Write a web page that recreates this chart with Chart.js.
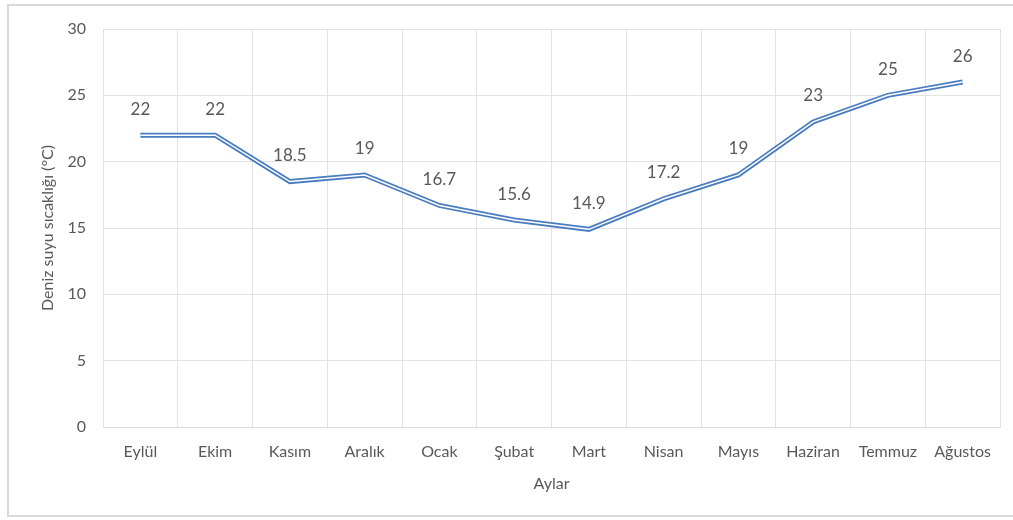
<!DOCTYPE html>
<html>
<head>
<meta charset="utf-8">
<script src="https://cdn.jsdelivr.net/npm/chart.js@4.4.0/dist/chart.umd.min.js"></script>
<style>
  html, body { margin: 0; padding: 0; background: #fff; }
  #wrap { position: relative; width: 1013px; height: 520px; overflow: hidden; }
  #frame { position: absolute; left: 7px; top: 4px; width: 1020px; height: 513px; border: 2px solid #d9d9d9; box-sizing: border-box; }
  #chart { position: absolute; left: 0; top: 0; }
</style>
</head>
<body>
<div id="wrap">
  <div id="frame"></div>
  <canvas id="chart" width="1013" height="520"></canvas>
</div>
<script>
// sea water temperature by month
const months = ['Eylül', 'Ekim', 'Kasım', 'Aralık', 'Ocak', 'Şubat', 'Mart', 'Nisan', 'Mayıs', 'Haziran', 'Temmuz', 'Ağustos'];
const temps = [22, 22, 18.5, 19, 16.7, 15.6, 14.9, 17.2, 19, 23, 25, 26];
const yTicks = [0, 5, 10, 15, 20, 25, 30];

const textColor = '#595959';
const gridColor = '#e3e3e3';
const lineBlue = '#4a7cc0';
const fontFamily = 'Lato, "Open Sans", sans-serif';

// draws the value above each point, like excel data labels
const valueLabels = {
    id: 'valueLabels',
    afterDatasetsDraw(chart) {
        const ctx = chart.ctx;
        const meta = chart.getDatasetMeta(0);
        ctx.save();
        ctx.font = '17px ' + fontFamily;
        ctx.fillStyle = textColor;
        ctx.textAlign = 'center';
        ctx.textBaseline = 'middle';
        meta.data.forEach((pt, i) => {
            ctx.fillText(String(temps[i]), pt.x, pt.y - 26);
        });
        ctx.restore();
    }
};

const ctx = document.getElementById('chart').getContext('2d');
new Chart(ctx, {
    type: 'line',
    data: {
        labels: months,
        datasets: [
            {
                // outer blue stroke
                data: temps,
                borderColor: lineBlue,
                borderWidth: 5,
                pointRadius: 0,
                tension: 0,
                fill: false,
                order: 1
            },
            {
                // white core -> double line look
                data: temps,
                borderColor: '#ffffff',
                borderWidth: 1.5,
                pointRadius: 0,
                tension: 0,
                fill: false,
                order: 0
            }
        ]
    },
    options: {
        responsive: false,
        animation: false,
        layout: { padding: { left: 34, top: 29, right: 13, bottom: 23 } },
        plugins: {
            legend: { display: false },
            tooltip: { enabled: false }
        },
        scales: {
            x: {
                offset: true,
                grid: { color: gridColor, offset: true, drawTicks: false },
                border: { color: '#d9d9d9' },
                ticks: { color: textColor, font: { family: fontFamily, size: 16 }, padding: 15, maxRotation: 0, autoSkip: false },
                title: { display: true, text: 'Aylar', color: textColor, font: { family: fontFamily, size: 16 }, padding: 4 },
                afterFit(scale) { scale.height = 70; }
            },
            y: {
                min: 0,
                max: 30,
                afterBuildTicks(scale) { scale.ticks = yTicks.map(v => ({ value: v })); },
                grid: { color: gridColor, drawTicks: false },
                border: { display: false },
                ticks: { color: textColor, font: { family: fontFamily, size: 16 }, padding: 17 },
                title: { display: true, text: 'Deniz suyu sıcaklığı (°C)', color: textColor, font: { family: fontFamily, size: 16 }, padding: 4 },
                afterFit(scale) { scale.width = 69; }
            }
        }
    },
    plugins: [valueLabels]
});
</script>
</body>
</html>
